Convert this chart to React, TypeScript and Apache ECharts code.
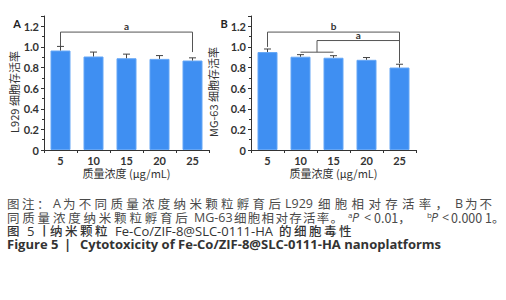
import React, { useEffect, useRef } from 'react';
import * as echarts from 'echarts';

const categories = ['5', '10', '15', '20', '25'];
const l929Values = [0.965, 0.907, 0.89, 0.884, 0.868];
const l929Errors = [0.04, 0.043, 0.04, 0.032, 0.026];
const mg63Values = [0.95, 0.905, 0.895, 0.875, 0.8];
const mg63Errors = [0.03, 0.02, 0.02, 0.022, 0.032];
const yMin = 0;
const yMax = 1.3;
const yInterval = 0.2;
const panelLabels = ['A', 'B'];
const yNames = ['L929 细胞存活率', 'MG-63 细胞存活率'];
const xName = '质量浓度 (μg/mL)';

// significance brackets (category indices, data-unit levels)
const brackets = [
  { panel: 0, label: 'a', from: 0, to: 4, level: 1.144, leftEnd: 1.0, rightEnd: 0.95, group: null as null | number[] },
  { panel: 1, label: 'b', from: 0, to: 4, level: 1.144, leftEnd: 1.0, rightEnd: 0.843, group: null as null | number[] },
  { panel: 1, label: 'a', from: 1.5, to: 4, level: 1.062, leftEnd: 0.949, rightEnd: 0.843, group: [1, 2] },
];

const LATIN = 'Lato, "Noto Sans CJK SC", sans-serif';
const CAP_LATIN = '"Open Sans", "Noto Sans CJK SC", sans-serif';
const CJK = '"Noto Sans CJK SC", Lato, sans-serif';

type Seg = { t: string; x: number; pitch?: number; sup?: boolean; italic?: boolean };
const captionLines: { y: number; color: string; weight: string | number; latinSize: number; segs: Seg[] }[] = [
  {
    y: 203.3, color: '#4a4a4a', weight: 'normal', latinSize: 12.5, segs: [
      { t: '图注：', x: 7, pitch: 15 },
      { t: 'A', x: 53 },
      { t: '为不同质量浓度纳米颗粒孵育后', x: 63, pitch: 15.8 },
      { t: 'L929', x: 285 },
      { t: '细胞相对存活率，', x: 318, pitch: 16.8 },
      { t: 'B', x: 455 },
      { t: '为不', x: 465, pitch: 14.5 },
    ],
  },
  {
    y: 217, color: '#4a4a4a', weight: 'normal', latinSize: 12.5, segs: [
      { t: '同质量浓度纳米颗粒孵育后', x: 7, pitch: 15.3 },
      { t: 'MG-63', x: 194 },
      { t: '细胞相对存活率。', x: 234, pitch: 13.8 },
      { t: 'a', x: 348, sup: true },
      { t: 'P', x: 352, italic: true },
      { t: '<', x: 364 },
      { t: '0.01，', x: 374 },
      { t: 'b', x: 427, sup: true },
      { t: 'P', x: 431, italic: true },
      { t: '<', x: 442 },
      { t: '0.000 1。', x: 451 },
    ],
  },
  {
    y: 230.5, color: '#333', weight: 500, latinSize: 13, segs: [
      { t: '图', x: 7 },
      { t: '5', x: 27 },
      { t: '丨', x: 38 },
      { t: '纳米颗粒', x: 50, pitch: 15 },
      { t: 'Fe-Co/ZIF-8@SLC-0111-HA', x: 115 },
      { t: '的细胞毒性', x: 279, pitch: 15 },
    ],
  },
  {
    y: 244, color: '#333', weight: 'bold', latinSize: 13, segs: [
      { t: 'Figure 5', x: 7 },
      { t: '|', x: 64 },
      { t: 'Cytotoxicity of Fe-Co/ZIF-8@SLC-0111-HA nanoplatforms', x: 80 },
    ],
  },
];

const isCJK = (s: string) => /[\u3000-\u9fff\uff00-\uffef]/.test(s);

export default function App() {
  const ref = useRef<HTMLDivElement>(null);
  useEffect(() => {
    if (!ref.current) return;
    const chart = echarts.init(ref.current, undefined, { renderer: 'svg' });
    const grids = [
      { left: 44, top: 16, width: 165, height: 134 },
      { left: 251, top: 16, width: 165, height: 134 },
    ];
    const axisColor = '#333';
    const xAxes = grids.map((_, i) => ({
      type: 'category', gridIndex: i, data: categories,
      axisLine: { lineStyle: { color: axisColor, width: 1 } },
      axisTick: { show: true, length: 3, lineStyle: { color: axisColor } },
      axisLabel: { margin: 5, fontSize: 11, color: '#333', fontFamily: LATIN, fontWeight: 'bold' },
      name: xName, nameLocation: 'middle', nameGap: 17,
      nameTextStyle: { fontSize: 11, color: '#333', fontFamily: CJK, lineHeight: 12 },
    }));
    const yAxes = grids.map((_, i) => ({
      type: 'value', gridIndex: i, min: yMin, max: yMax, interval: yInterval,
      axisLine: { show: true, lineStyle: { color: axisColor, width: 1 } },
      axisTick: { show: true, length: 3, lineStyle: { color: axisColor } },
      minorTick: { show: true, splitNumber: 2, length: 2, lineStyle: { color: axisColor } },
      splitLine: { show: false },
      axisLabel: {
        margin: 5, fontSize: 11, color: '#333', fontFamily: LATIN, fontWeight: 'bold', showMaxLabel: false,
        formatter: (v: number) => (v === 0 ? '0' : v.toFixed(1)),
      },
    }));
    const valueSets = [l929Values, mg63Values];
    const errSets = [l929Errors, mg63Errors];
    const series: any[] = [];
    valueSets.forEach((vals, p) => {
      series.push({
        type: 'bar', xAxisIndex: p, yAxisIndex: p, data: vals, barWidth: 20,
        itemStyle: { color: '#3f8ff2', borderColor: '#64a6f6', borderWidth: 1 },
      });
      series.push({
        type: 'custom', xAxisIndex: p, yAxisIndex: p, z: 10,
        data: vals.map((v, i) => [i, v, errSets[p][i]]),
        renderItem: (params: any, api: any) => {
          const base = api.coord([api.value(0), api.value(1)]);
          const top = api.coord([api.value(0), api.value(1) + api.value(2)]);
          return {
            type: 'group',
            children: [
              { type: 'line', shape: { x1: base[0], y1: base[1], x2: base[0], y2: top[1] }, style: { stroke: '#444', lineWidth: 1 } },
              { type: 'line', shape: { x1: base[0] - 3.5, y1: top[1], x2: base[0] + 3.5, y2: top[1] }, style: { stroke: '#444', lineWidth: 1 } },
            ],
          };
        },
      });
    });
    chart.setOption({
      animation: false,
      backgroundColor: '#fff',
      grid: grids,
      xAxis: xAxes,
      yAxis: yAxes,
      series,
    });

    const px = (p: number, idx: number, v: number) => {
      const lo = Math.floor(idx);
      const hi = Math.ceil(idx);
      const a = chart.convertToPixel({ gridIndex: p }, [lo, v]) as number[];
      const b = chart.convertToPixel({ gridIndex: p }, [hi, v]) as number[];
      const f = idx - lo;
      return [a[0] + (b[0] - a[0]) * f, a[1]];
    };
    const graphics: any[] = [];
    const lineStyle = { stroke: '#555', lineWidth: 1 };
    brackets.forEach((br) => {
      const l = px(br.panel, br.from, br.level);
      const r = px(br.panel, br.to, br.level);
      const le = px(br.panel, br.from, br.leftEnd);
      const re = px(br.panel, br.to, br.rightEnd);
      graphics.push({ type: 'polyline', shape: { points: [[le[0], le[1]], [l[0], l[1]], [r[0], r[1]], [re[0], re[1]]] }, style: { ...lineStyle, fill: null } });
      if (br.group) {
        const g1 = px(br.panel, br.group[0], br.leftEnd);
        const g2 = px(br.panel, br.group[1], br.leftEnd);
        graphics.push({ type: 'line', shape: { x1: g1[0], y1: g1[1], x2: g2[0], y2: g2[1] }, style: lineStyle });
      }
      const labelX = (l[0] + r[0]) / 2;
      graphics.push({
        type: 'text', x: labelX, y: l[1] - 1,
        style: { text: br.label, fontSize: 10, fontWeight: 'bold', fill: '#333', fontFamily: LATIN, textAlign: 'center', textVerticalAlign: 'bottom', lineHeight: 10 },
      });
    });
    grids.forEach((g, p) => {
      graphics.push({
        type: 'text', x: g.left - 27, y: 23,
        style: { text: panelLabels[p], fontSize: 11, fontWeight: 'bold', fill: '#222', fontFamily: LATIN, textAlign: 'center', textVerticalAlign: 'middle' },
      });
      graphics.push({
        type: 'text', x: g.left - (p === 0 ? 30 : 38), y: 92, rotation: Math.PI / 2,
        style: { text: yNames[p], fontSize: 11, fill: '#333', fontFamily: CJK, textAlign: 'center', textVerticalAlign: 'middle', lineHeight: 12 },
      });
    });
    captionLines.forEach((line) => {
      line.segs.forEach((s) => {
        const chars = s.pitch ? Array.from(s.t) : [s.t];
        chars.forEach((c, k) => {
          const cjk = isCJK(c);
          const size = s.sup ? 8 : cjk ? 12.5 : line.latinSize;
          graphics.push({
            type: 'text',
            x: s.x + (s.pitch ? k * s.pitch : 0),
            y: s.sup ? line.y - 3 : line.y,
            style: {
              text: c,
              fontSize: size,
              lineHeight: s.sup ? 8 : 12,
              fontStyle: s.italic ? 'italic' : 'normal',
              fontWeight: line.weight,
              fill: line.color,
              fontFamily: cjk ? CJK : CAP_LATIN,
              textAlign: 'left',
              textVerticalAlign: 'middle',
            },
          });
        });
      });
    });
    chart.setOption({ graphic: graphics });
    return () => chart.dispose();
  }, []);
  return <div ref={ref} style={{ position: 'fixed', left: 0, top: 0, width: 506, height: 300, background: '#fff' }} />;
}
